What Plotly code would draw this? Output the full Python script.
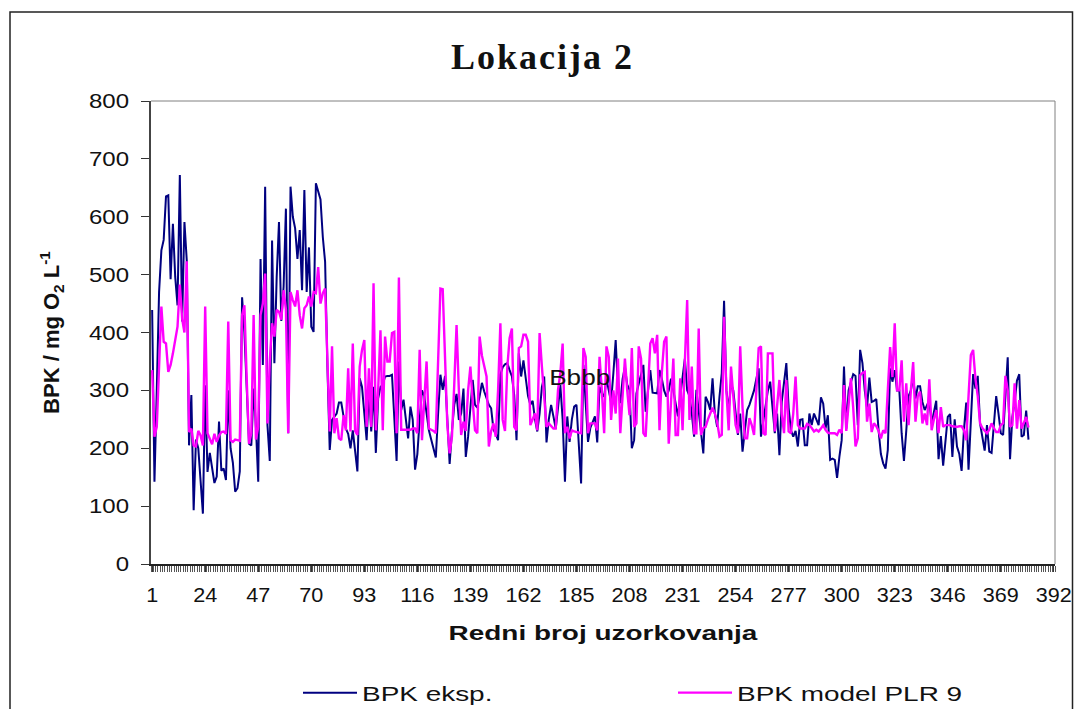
import plotly.graph_objects as go

bpk_eksp = [
439,142,300,470,542,560,635,637,492,588,
496,447,672,419,591,525,205,292,93,215,
200,150,87,309,159,192,165,140,151,246,
161,165,145,300,200,175,125,131,160,461,
400,300,208,205,303,237,142,527,344,652,
240,178,559,347,496,591,420,479,614,226,
652,600,580,527,577,473,646,470,547,410,
401,658,646,630,565,522,341,197,249,255,
260,279,279,255,234,225,200,231,190,160,
321,306,260,214,300,229,306,192,286,306,
310,324,325,325,327,240,178,350,266,284,
250,217,272,249,163,190,249,300,290,260,
231,215,200,184,260,327,301,325,250,173,
230,275,294,249,260,303,185,220,270,318,
275,270,290,313,298,285,275,269,232,225,
214,327,340,345,347,335,324,292,214,364,
324,352,321,290,275,282,250,229,260,306,
324,210,250,275,255,234,270,309,250,142,
255,211,250,272,275,200,139,344,270,211,
235,245,255,210,306,295,289,320,300,280,
330,387,300,278,320,340,310,301,200,214,
295,310,330,344,263,300,335,296,295,295,
335,320,300,289,300,320,300,275,255,290,
320,355,300,290,260,220,301,260,230,191,
289,280,266,321,260,237,289,330,455,300,
266,312,300,260,223,260,194,230,266,275,
289,300,320,338,220,249,280,300,315,270,
226,260,188,280,320,347,270,231,220,230,
203,249,250,205,205,260,240,260,250,240,
288,277,234,257,180,182,180,149,185,214,
341,234,300,315,328,325,240,370,347,300,
270,322,280,282,285,231,190,174,165,197,
338,315,335,300,300,226,178,230,290,300,
321,286,307,307,280,266,275,283,243,260,
282,181,221,170,215,254,259,185,250,203,
190,161,231,279,163,250,328,303,325,243,
220,196,240,194,192,240,290,260,226,223,
300,357,181,254,280,317,328,220,223,265,215,
]
bpk_model = [
335,220,237,340,445,384,381,332,344,364,
387,410,483,424,400,523,228,234,205,203,
230,222,205,445,226,217,207,225,211,222,
228,229,225,419,214,211,215,214,213,430,
447,320,208,226,430,215,237,430,450,502,
243,350,416,393,439,436,422,473,440,226,
470,456,445,473,430,407,442,447,462,445,
470,468,513,450,468,476,330,229,376,226,
252,217,214,257,231,338,229,381,230,223,
341,370,387,237,338,237,485,231,300,404,
231,393,350,350,399,401,226,495,232,232,
232,232,232,234,234,226,370,214,280,350,
234,232,230,226,350,476,475,340,240,191,
220,310,413,300,223,246,230,300,341,280,
231,226,393,360,340,324,203,230,243,220,
300,416,249,230,340,390,407,237,231,373,
376,396,396,384,240,250,260,231,399,341,
290,237,243,238,234,234,301,330,381,226,
237,217,231,229,228,226,226,373,358,226,
243,243,243,231,358,300,226,376,358,249,
300,260,355,226,300,355,300,257,373,237,
243,376,355,226,220,300,381,390,364,396,
231,330,384,393,208,280,355,223,223,321,
231,350,456,249,341,226,226,407,223,235,
237,250,260,270,260,245,220,223,427,300,
231,341,290,240,226,376,270,217,217,252,
240,223,300,373,376,226,223,364,364,364,
229,270,318,260,226,318,229,226,260,324,
240,234,234,234,242,240,235,229,232,229,
234,240,232,227,226,226,226,223,232,226,
309,230,270,321,270,203,217,326,330,332,
246,277,228,243,238,230,217,231,226,300,
375,323,416,300,300,352,246,312,240,300,
349,246,290,298,243,260,240,319,231,250,
266,226,271,237,240,240,240,238,237,237,
238,238,231,214,290,361,370,320,290,243,
235,231,226,232,243,235,228,228,240,243,
325,300,237,240,312,234,283,234,245,254,236,
]
sample_no = list(range(1, len(bpk_eksp) + 1))
tick_labels = [1, 24, 47, 70, 93, 116, 139, 162, 185, 208, 231, 254, 277, 300, 323, 346, 369, 392]
y_ticks = [0, 100, 200, 300, 400, 500, 600, 700, 800]

W, H = 1082, 709
L, R, T, B = 151, 1055, 101, 564
SANS = "Liberation Sans, Arial, sans-serif"

def px(x):
    return (x - L) / (R - L)
def py(y):
    return (B - y) / (B - T)

fig = go.Figure()
fig.add_trace(go.Scatter(x=sample_no, y=bpk_eksp, mode="lines", name="BPK eksp.",
                         line=dict(color="#000080", width=2)))
fig.add_trace(go.Scatter(x=sample_no, y=bpk_model, mode="lines", name="BPK model PLR 9",
                         line=dict(color="#ff00ff", width=2.4)))

fig.update_layout(
    width=W, height=H,
    margin=dict(l=L, r=W - R, t=T, b=H - B, autoexpand=False),
    paper_bgcolor="white", plot_bgcolor="white",
    font=dict(family=SANS, color="#111111"),
    showlegend=True,
    legend=dict(orientation="h", x=px(298), xanchor="left", y=py(693), yanchor="middle",
                entrywidth=306, entrywidthmode="pixels", itemwidth=54,
                font=dict(size=21, family=SANS), bgcolor="rgba(0,0,0,0)"),
    xaxis=dict(range=[0.5, 392.5], tickmode="array", tickvals=tick_labels,
               ticktext=[str(t) for t in tick_labels], ticks="outside", ticklen=6,
               tickcolor="#333333", tickwidth=1, tickfont=dict(size=20, family=SANS),
               ticklabelstandoff=6, showline=True, linecolor="#222222", linewidth=1.5,
               mirror=False, showgrid=False, zeroline=False,
               minor=dict(ticks="outside", ticklen=6, tick0=0.5, dtick=1,
                          tickcolor="#555555", tickwidth=1, showgrid=False),
               title=dict(text="<b>Redni broj uzorkovanja</b>", font=dict(size=21, family=SANS),
                          standoff=21)),
    yaxis=dict(range=[0, 800], tickmode="array", tickvals=y_ticks, ticks="outside", ticklen=8,
               tickcolor="#333333", tickfont=dict(size=20, family=SANS), ticklabelstandoff=8,
               showline=True, linecolor="#444444", linewidth=2, showgrid=False, zeroline=False,
               title=dict(text="<b>BPK / mg O<sub>2</sub> L<sup>-1</sup></b>",
                          font=dict(size=22, family=SANS), standoff=30)),
    annotations=[
        dict(text="<b>Lokacija 2</b>", xref="paper", yref="paper", x=px(541), y=py(57),
             xanchor="center", yanchor="middle", showarrow=False,
             font=dict(size=36, family="Liberation Serif, serif", color="#111111")),
        dict(text="Bbbb", xref="x", yref="y", x=186.5, y=322, xanchor="center", yanchor="middle",
             showarrow=False, font=dict(size=22, family=SANS, color="#111111")),
    ],
    shapes=[
        dict(type="line", xref="paper", yref="paper", x0=px(R), x1=px(R), y0=0, y1=1,
             line=dict(color="#808080", width=1)),
        dict(type="line", xref="paper", yref="paper", x0=0, x1=1, y0=1, y1=1,
             line=dict(color="#808080", width=1)),
        dict(type="rect", xref="paper", yref="paper", x0=px(10), x1=px(1072.5), y0=py(12), y1=py(760),
             line=dict(color="#222222", width=1.5)),
    ],
)

# The reference's text is stretched sideways; SVG textLength reproduces that on the real text.
post = """
document.body.style.margin='0';document.body.style.overflow='hidden';
function stretch(sel, f, mode){
  document.querySelectorAll(sel).forEach(function(t){
    var n=t.getComputedTextLength();
    t.setAttribute('textLength', n*f);
    t.setAttribute('lengthAdjust', mode||'spacingAndGlyphs');
  });
}
stretch('.xtitle',1.33);
stretch('.xtick text',1.08);
stretch('.ytick text',1.2);
stretch('.legendtext',1.33);
var ann=document.querySelectorAll('.annotation-text');
if(ann[0]){ann[0].setAttribute('textLength',181);ann[0].setAttribute('lengthAdjust','spacing');}
if(ann[1]){ann[1].setAttribute('textLength',61);ann[1].setAttribute('lengthAdjust','spacingAndGlyphs');}
"""
fig.write_html("out.html", config={"displayModeBar": False}, post_script=post)
